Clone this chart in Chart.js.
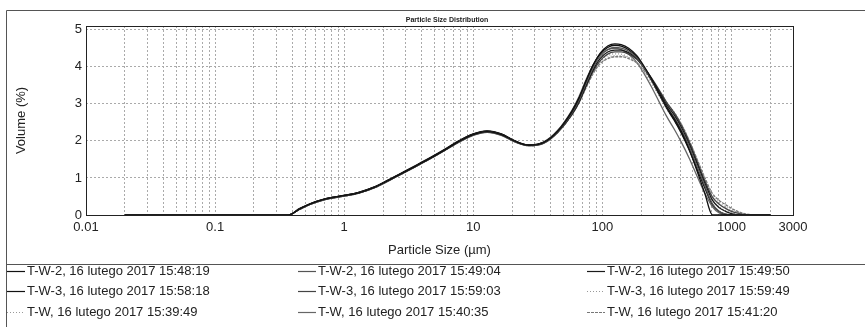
<!DOCTYPE html>
<html><head><meta charset="utf-8">
<script src="https://cdn.jsdelivr.net/npm/chart.js@4.4.0/dist/chart.umd.min.js"></script>
<style>html,body{margin:0;padding:0;background:#fff;overflow:hidden}canvas{display:block}</style>
</head><body>
<canvas id="c" width="865" height="327"></canvas>
<script>
const chartTitle = 'Particle Size Distribution';
const xTitle = 'Particle Size (µm)';
const yTitle = 'Volume (%)';
const xTickLabels = [0.01, 0.1, 1, 10, 100, 1000, 3000];
const yTickValues = [0, 1, 2, 3, 4, 5];

const sizes = [0.02, 0.05, 0.1, 0.2, 0.3, 0.37, 0.45, 0.55, 0.7, 0.85, 1, 1.3, 1.7, 2.2, 2.8, 3.6, 4.6, 6, 7.7, 10,
  12.8, 16.5, 21, 27, 35, 45, 58, 66, 75, 85, 96, 110, 125, 140, 160, 185, 210, 240, 275, 315,
  360, 410, 470, 540, 620, 713, 800, 900, 1000, 1150, 1330, 1500, 2000];

const seriesLabels = [
  'T-W-2, 16 lutego 2017 15:48:19', 'T-W-2, 16 lutego 2017 15:49:04', 'T-W-2, 16 lutego 2017 15:49:50',
  'T-W-3, 16 lutego 2017 15:58:18', 'T-W-3, 16 lutego 2017 15:59:03', 'T-W-3, 16 lutego 2017 15:59:49',
  'T-W, 16 lutego 2017 15:39:49', 'T-W, 16 lutego 2017 15:40:35', 'T-W, 16 lutego 2017 15:41:20'
];

const tw2a = [0,0,0,0,0,0,0.16,0.30,0.42,0.48,0.52,0.60,0.74,0.93,1.12,1.32,1.52,1.75,1.98,2.17,2.25,2.17,1.99,1.88,1.95,2.25,
  2.78,3.15,3.62,4.05,4.36,4.56,4.62,4.60,4.50,4.30,4.02,3.68,3.30,2.92,2.60,2.25,1.78,1.20,0.60,0,0,0,0,0,0,0,0];
const tw2b = [0,0,0,0,0,0,0.15,0.29,0.41,0.47,0.51,0.59,0.73,0.92,1.11,1.31,1.51,1.74,1.97,2.16,2.24,2.16,1.98,1.87,1.94,2.24,
  2.75,3.10,3.56,3.98,4.28,4.46,4.52,4.50,4.42,4.24,3.98,3.66,3.30,2.93,2.64,2.30,1.86,1.32,0.80,0.30,0.10,0.03,0,0,0,0,0];
const tw2c = [0,0,0,0,0,0,0.16,0.31,0.43,0.49,0.53,0.61,0.75,0.94,1.13,1.33,1.53,1.76,1.99,2.18,2.26,2.18,2.00,1.89,1.96,2.24,
  2.72,3.06,3.50,3.92,4.22,4.40,4.45,4.45,4.38,4.22,3.98,3.68,3.34,2.98,2.70,2.36,1.92,1.40,0.88,0.40,0.20,0.10,0.04,0,0,0,0];
const tw3a = [0,0,0,0,0,0,0.17,0.31,0.43,0.49,0.53,0.61,0.75,0.95,1.14,1.34,1.54,1.77,2.00,2.19,2.27,2.19,2.00,1.89,1.96,2.27,
  2.80,3.16,3.62,4.04,4.34,4.52,4.58,4.56,4.46,4.26,3.98,3.64,3.26,2.88,2.56,2.20,1.76,1.25,0.74,0.28,0.10,0.02,0,0,0,0,0];
const tw3b = [0,0,0,0,0,0,0.15,0.29,0.41,0.47,0.51,0.59,0.73,0.92,1.11,1.31,1.51,1.74,1.96,2.15,2.23,2.15,1.97,1.87,1.93,2.22,
  2.70,3.04,3.48,3.88,4.16,4.34,4.40,4.40,4.34,4.20,3.98,3.70,3.38,3.04,2.76,2.42,1.98,1.46,0.94,0.48,0.30,0.18,0.10,0.04,0,0,0];
const tw3c = [0,0,0,0,0,0,0.16,0.30,0.42,0.48,0.52,0.60,0.74,0.93,1.12,1.32,1.52,1.75,1.98,2.17,2.25,2.17,1.99,1.88,1.95,2.24,
  2.72,3.05,3.46,3.84,4.10,4.25,4.30,4.30,4.25,4.12,3.92,3.66,3.36,3.04,2.78,2.46,2.02,1.50,0.98,0.52,0.34,0.22,0.14,0.06,0,0,0];
const twa = [0,0,0,0,0,0,0.16,0.30,0.42,0.48,0.52,0.60,0.74,0.93,1.12,1.32,1.52,1.75,1.98,2.17,2.25,2.17,1.99,1.88,1.95,2.25,
  2.74,3.08,3.50,3.88,4.15,4.30,4.35,4.34,4.26,4.10,3.86,3.56,3.22,2.86,2.56,2.22,1.80,1.30,0.82,0.40,0.22,0.12,0.06,0.02,0,0,0];
const twb = [0,0,0,0,0,0,0.17,0.31,0.43,0.49,0.53,0.61,0.75,0.94,1.13,1.33,1.53,1.76,1.99,2.18,2.26,2.18,2.00,1.89,1.97,2.28,
  2.82,3.20,3.66,4.06,4.32,4.46,4.50,4.46,4.34,4.12,3.82,3.46,3.06,2.66,2.32,1.96,1.54,1.06,0.60,0.22,0.06,0,0,0,0,0,0];
const twc = [0,0,0,0,0,0,0.15,0.29,0.41,0.47,0.51,0.59,0.73,0.92,1.11,1.31,1.51,1.74,1.97,2.16,2.24,2.16,1.98,1.87,1.94,2.23,
  2.70,3.03,3.44,3.82,4.08,4.22,4.27,4.27,4.22,4.10,3.90,3.64,3.34,3.02,2.76,2.44,2.02,1.52,1.02,0.58,0.40,0.28,0.18,0.08,0.02,0,0];

const seriesValues = [tw2a, tw2b, tw2c, tw3a, tw3b, tw3c, twa, twb, twc];
const seriesColors = ['#111', '#555', '#1a1a1a', '#111', '#444', '#999', '#999', '#666', '#777'];
const seriesDash = [[], [], [], [], [], [1, 2], [1, 2], [], [3, 1]];

const datasets = seriesValues.map((vals, i) => ({
  label: seriesLabels[i],
  data: sizes.map((s, j) => ({x: s, y: vals[j]})),
  borderColor: seriesColors[i],
  borderDash: seriesDash[i],
  borderWidth: 1.3,
  pointRadius: 0,
  fill: false,
  cubicInterpolationMode: 'monotone'
}));

const FONT = '"Liberation Sans", Arial, sans-serif';

const framePlugin = {
  id: 'frame',
  afterDraw(chart) {
    const ctx = chart.ctx, a = chart.chartArea;
    ctx.save();
    // outer frame
    ctx.strokeStyle = '#555';
    ctx.lineWidth = 1;
    ctx.beginPath();
    ctx.moveTo(6.5, 327); ctx.lineTo(6.5, 10.5); ctx.lineTo(865, 10.5);
    ctx.moveTo(6.5, 264.5); ctx.lineTo(865, 264.5);
    ctx.stroke();
    // chart area frame
    ctx.strokeStyle = '#222';
    ctx.strokeRect(Math.round(a.left) + 0.5, Math.round(a.top) + 0.5, Math.round(a.right - a.left), Math.round(a.bottom - a.top));
    // title
    ctx.fillStyle = '#222';
    ctx.font = 'bold 7px ' + FONT;
    ctx.textAlign = 'center';
    ctx.textBaseline = 'middle';
    ctx.fillText(chartTitle, 447, 20);
    // legend
    const colX = [7, 298, 587];
    const rowY = [271, 291, 312];
    ctx.font = '13px ' + FONT;
    ctx.textAlign = 'left';
    chart.data.datasets.forEach((ds, i) => {
      const x = colX[i % 3], y = rowY[Math.floor(i / 3)];
      ctx.strokeStyle = ds.borderColor;
      ctx.lineWidth = 1.2;
      ctx.setLineDash(ds.borderDash || []);
      ctx.beginPath();
      ctx.moveTo(x, y + 0.5); ctx.lineTo(x + 18, y + 0.5);
      ctx.stroke();
      ctx.setLineDash([]);
      ctx.fillStyle = '#222';
      ctx.fillText(ds.label, x + 20, y);
    });
    ctx.restore();
  }
};

new Chart(document.getElementById('c'), {
  type: 'line',
  data: {datasets},
  options: {
    responsive: false,
    animation: false,
    events: [],
    layout: {padding: {left: 0, right: 72, top: 26, bottom: 63}},
    plugins: {legend: {display: false}, title: {display: false}, tooltip: {enabled: false}},
    scales: {
      x: {
        type: 'logarithmic',
        min: 0.01, max: 3000,
        afterBuildTicks(scale) {
          const t = [];
          for (let e = -2; e <= 2; e++) {
            for (let m = 1; m <= 9; m++) t.push({value: +(m * Math.pow(10, e)).toPrecision(3)});
          }
          t.push({value: 1000}, {value: 2000}, {value: 3000});
          scale.ticks = t;
        },
        afterFit(scale) { scale.height = 49; },
        ticks: {
          autoSkip: false, maxRotation: 0, padding: 5,
          color: '#222', font: {family: FONT, size: 13},
          callback(v) { return xTickLabels.includes(+v) ? String(v) : ''; }
        },
        grid: {color: '#aaa', lineWidth: 1, drawTicks: false},
        border: {display: false, dash: [2, 2]},
        title: {display: true, text: xTitle, color: '#222', font: {family: FONT, size: 13}, padding: {top: 0, bottom: 6}}
      },
      y: {
        min: 0, max: 5.1,
        afterBuildTicks(scale) { scale.ticks = yTickValues.map(v => ({value: v})); },
        afterFit(scale) { scale.width = 86; },
        ticks: {padding: 4, color: '#222', font: {family: FONT, size: 13}},
        grid: {color: '#aaa', lineWidth: 1, drawTicks: false},
        border: {display: false, dash: [2, 2]},
        title: {display: true, text: yTitle, color: '#222', font: {family: FONT, size: 13}, padding: {top: 14, bottom: 0}}
      }
    }
  },
  plugins: [framePlugin]
});
</script>
</body></html>
